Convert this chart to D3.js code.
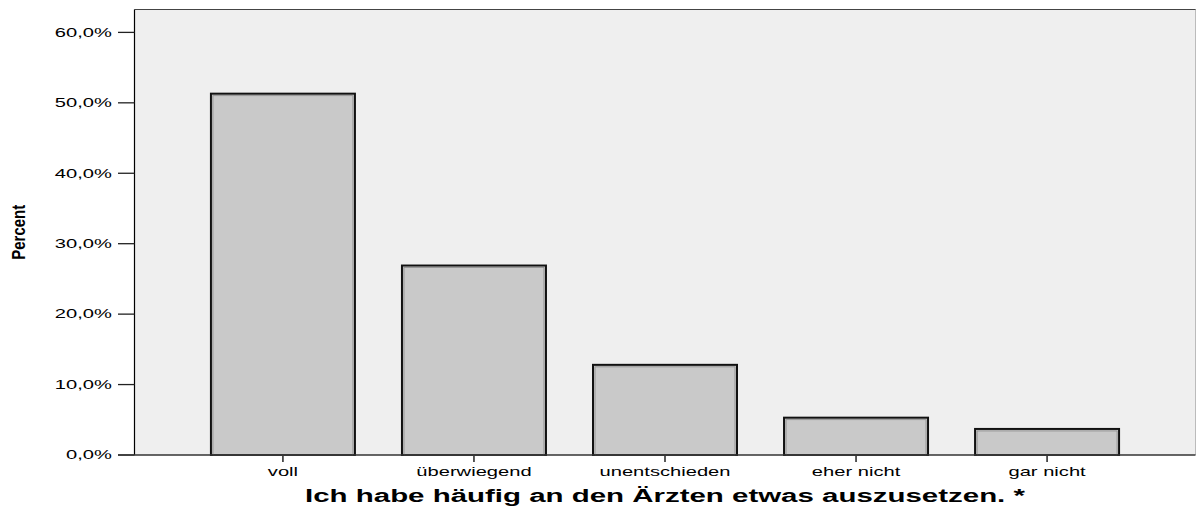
<!DOCTYPE html>
<html>
<head>
<meta charset="utf-8">
<script src="https://cdn.jsdelivr.net/npm/d3@7"></script>
<style>
  body { margin: 0; background: #fff; }
  text { font-family: "Liberation Sans", Arial, sans-serif; fill: #000; }
</style>
</head>
<body>
<script>
// answer categories and percentages
var categories = ["voll", "überwiegend", "unentschieden", "eher nicht", "gar nicht"];
var percents = [51.3, 26.9, 12.8, 5.3, 3.7];
var yTicks = [0, 10, 20, 30, 40, 50, 60];
var xTitle = "Ich habe häufig an den Ärzten etwas auszusetzen. *";
var yTitle = "Percent";

var W = 1196, H = 508;
var pLeft = 134.5, pRight = 1195.5, pTop = 9.5, pBottom = 455;

var svg = d3.select("body").append("svg")
  .attr("width", W)
  .attr("height", H);

var x = d3.scalePoint()
  .domain(categories)
  .range([pLeft, pRight])
  .padding(0.777);

var y = d3.scaleLinear()
  .domain([0, 63.25])
  .range([pBottom, pTop]);

var barW = 144;

// plot background
svg.append("rect")
  .attr("x", pLeft).attr("y", pTop)
  .attr("width", pRight - pLeft).attr("height", pBottom - pTop)
  .attr("fill", "#efefef");

// top and right frame
svg.append("line")
  .attr("x1", pLeft).attr("x2", pRight + 0.5)
  .attr("y1", pTop).attr("y2", pTop)
  .attr("stroke", "#444").attr("stroke-width", 1);
svg.append("line")
  .attr("x1", pRight).attr("x2", pRight)
  .attr("y1", pTop).attr("y2", pBottom)
  .attr("stroke", "#bbb").attr("stroke-width", 1);

// bars
var bars = svg.append("g").selectAll("g")
  .data(percents)
  .enter().append("g");

bars.append("rect")
  .attr("x", function(d, i) { return x(categories[i]) - barW / 2; })
  .attr("y", function(d) { return y(d); })
  .attr("width", barW)
  .attr("height", function(d) { return pBottom - y(d); })
  .attr("fill", "#c9c9c9")
  .attr("stroke", "#111")
  .attr("stroke-width", 2);

bars.append("rect")
  .attr("x", function(d, i) { return x(categories[i]) - barW / 2 + 2; })
  .attr("y", function(d) { return y(d) + 2; })
  .attr("width", barW - 4)
  .attr("height", function(d) { return Math.max(0, pBottom - y(d) - 2); })
  .attr("fill", "none")
  .attr("stroke", "#8a8a8a")
  .attr("stroke-width", 0.8);

// y axis
var yAxis = svg.append("g");
yAxis.append("line")
  .attr("x1", pLeft).attr("x2", pLeft)
  .attr("y1", pTop).attr("y2", pBottom)
  .attr("stroke", "#000").attr("stroke-width", 1.2);

var yt = yAxis.selectAll(".yt")
  .data(yTicks)
  .enter().append("g")
  .attr("class", "yt")
  .attr("transform", function(d) { return "translate(0," + y(d) + ")"; });

yt.append("line")
  .attr("x1", 118).attr("x2", pLeft)
  .attr("stroke", "#222").attr("stroke-width", 1.3);

yt.append("text")
  .attr("transform", "translate(112,4.3) scale(1.68,1)")
  .attr("text-anchor", "end")
  .style("font-size", "12px")
  .text(function(d) { return d3.format(".1f")(d).replace(".", ",") + "%"; });

// x axis
svg.append("line")
  .attr("x1", 118).attr("x2", pRight)
  .attr("y1", pBottom).attr("y2", pBottom)
  .attr("stroke", "#333").attr("stroke-width", 1.3);

var xt = svg.selectAll(".xt")
  .data(categories)
  .enter().append("g")
  .attr("class", "xt")
  .attr("transform", function(d) { return "translate(" + x(d) + "," + pBottom + ")"; });

xt.append("line")
  .attr("y1", 1).attr("y2", 7)
  .attr("stroke", "#000").attr("stroke-width", 1.3);

xt.append("text")
  .attr("transform", "translate(0,21) scale(1.68,1)")
  .attr("text-anchor", "middle")
  .style("font-size", "12px")
  .text(function(d) { return d; });

// axis titles
var xt2 = svg.append("text")
  .attr("text-anchor", "middle")
  .style("font-size", "17.5px")
  .style("font-weight", "bold")
  .text(xTitle);
var tw = xt2.node().getComputedTextLength();
var sx = 720 / tw;
xt2.attr("transform", "translate(" + ((pLeft + pRight) / 2) + ",502) scale(" + sx + ",1)");

svg.append("text")
  .attr("transform", "translate(25," + ((pTop + pBottom) / 2) + ") rotate(-90) scale(0.83,1)")
  .attr("text-anchor", "middle")
  .style("font-size", "18px")
  .style("font-weight", "bold")
  .text(yTitle);
</script>
</body>
</html>
